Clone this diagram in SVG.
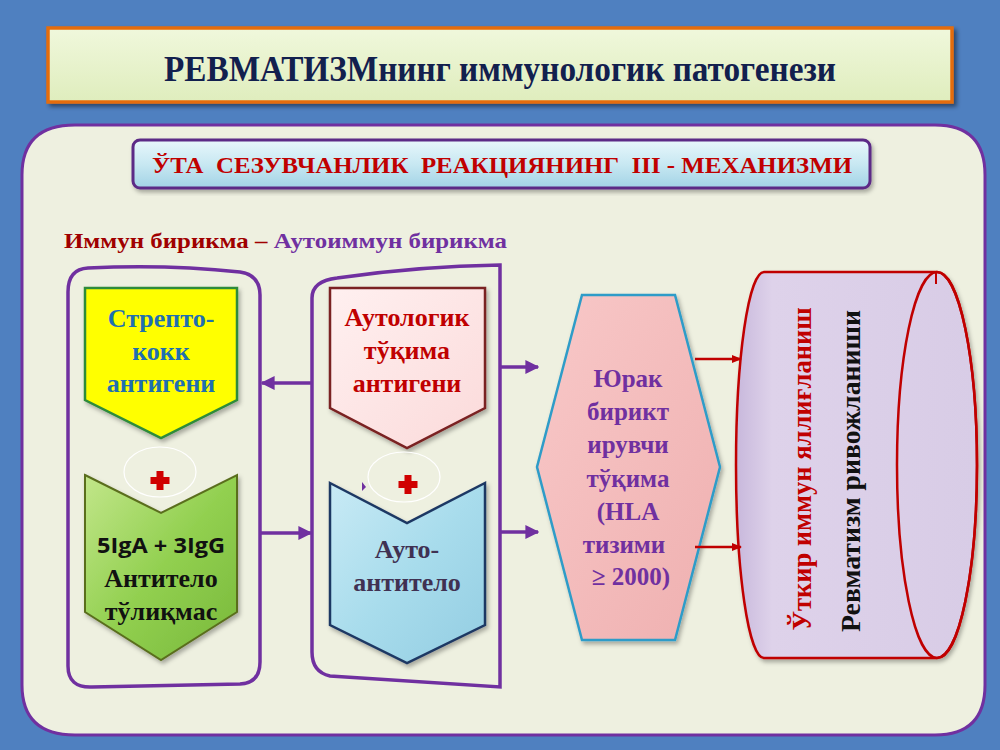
<svg xmlns="http://www.w3.org/2000/svg" width="1000" height="750" viewBox="0 0 1000 750">
<defs>
<linearGradient id="gTitle" x1="0" y1="0" x2="0" y2="1"><stop offset="0" stop-color="#f0f8dc"/><stop offset="1" stop-color="#dfedbd"/></linearGradient>
<linearGradient id="gSub" x1="0" y1="0" x2="0" y2="1"><stop offset="0" stop-color="#e8f7fb"/><stop offset="0.5" stop-color="#c8e8f2"/><stop offset="1" stop-color="#a2d3e6"/></linearGradient>
<linearGradient id="gGreen" x1="0" y1="0" x2="1" y2="1"><stop offset="0" stop-color="#c2e68a"/><stop offset="0.5" stop-color="#92d050"/><stop offset="1" stop-color="#78b83a"/></linearGradient>
<linearGradient id="gBlue" x1="0" y1="0" x2="1" y2="1"><stop offset="0" stop-color="#c8eaf5"/><stop offset="0.5" stop-color="#a8dcec"/><stop offset="1" stop-color="#93cde2"/></linearGradient>
<linearGradient id="gPink" x1="0" y1="0" x2="1" y2="1"><stop offset="0" stop-color="#fff0f0"/><stop offset="1" stop-color="#fbdada"/></linearGradient>
<linearGradient id="gHex" x1="0" y1="0" x2="1" y2="1"><stop offset="0" stop-color="#f8c8c8"/><stop offset="1" stop-color="#efb0b0"/></linearGradient>
<linearGradient id="gCyl" x1="0" y1="0" x2="1" y2="0"><stop offset="0" stop-color="#c8b8dc"/><stop offset="0.15" stop-color="#ded2ea"/><stop offset="1" stop-color="#d8cce6"/></linearGradient>
<filter id="sh" x="-5%" y="-10%" width="110%" height="130%"><feDropShadow dx="3" dy="3" stdDeviation="2" flood-color="#000" flood-opacity="0.45"/></filter>
<filter id="sh2" x="-10%" y="-10%" width="125%" height="125%"><feDropShadow dx="2" dy="3" stdDeviation="2" flood-color="#000" flood-opacity="0.3"/></filter>
<marker id="mP" viewBox="0 0 10 10" refX="9" refY="5" markerWidth="4" markerHeight="4" orient="auto"><path d="M0,0 L10,5 L0,10 Z" fill="#7030a0"/></marker>
<marker id="mR" viewBox="0 0 10 10" refX="9" refY="5" markerWidth="4" markerHeight="4" orient="auto"><path d="M0,1 L10,5 L0,9 Z" fill="#c00000"/></marker>
<style>
.serif{font-family:"Liberation Serif","Times New Roman",serif;font-weight:bold}
.sans{font-family:"Open Sans","Liberation Sans",sans-serif;font-weight:bold}
.box{font-size:26px;text-anchor:middle}
.cont{fill:none;stroke:#7030a0;stroke-width:3.5}
.pc{fill:none;stroke:#ffffff;stroke-width:1.2}
.plus{fill:#d00000}
.pl{stroke:#7030a0;stroke-width:3.5;fill:none}
.rl{stroke:#c00000;stroke-width:2.5;fill:none}
.pre{white-space:pre}
</style>
</defs>
<rect x="0" y="0" width="1000" height="750" fill="#4f80c0"/>

<g id="title">
<rect x="48" y="28" width="904" height="74" fill="url(#gTitle)" stroke="#e46c0a" stroke-width="3.5" filter="url(#sh)"/>
<text x="500" y="81" class="serif" font-size="35" fill="#12204e" text-anchor="middle" textLength="672" lengthAdjust="spacingAndGlyphs">РЕВМАТИЗМнинг иммунологик патогенези</text>
</g>

<g id="panel">
<path d="M75,125 L935,125 Q985,125 985,175 L985,685 Q985,735 935,735 L75,735 Q22,735 22,685 L22,175 Q22,125 75,125 Z" fill="#eef0e0" stroke="#7030a0" stroke-width="3"/>
</g>

<g id="subtitle">
<rect x="133" y="140" width="737" height="48" rx="7" fill="url(#gSub)" stroke="#5b2a86" stroke-width="3" filter="url(#sh2)"/>
<text x="502" y="173" class="serif pre" font-size="24" fill="#c00000" text-anchor="middle" textLength="700" lengthAdjust="spacingAndGlyphs">ЎТА  СЕЗУВЧАНЛИК  РЕАКЦИЯНИНГ  III - МЕХАНИЗМИ</text>
</g>

<g id="caption">
<text x="64" y="248" class="serif" font-size="21" textLength="443" lengthAdjust="spacingAndGlyphs"><tspan fill="#a00000">Иммун бирикма – </tspan><tspan fill="#7030a0">Аутоиммун бирикма</tspan></text>
</g>

<g id="container-left">
<path class="cont" d="M88,268 Q165,264 240,272 Q260,275 260,295 L260,662 Q260,683 240,684 L92,687 Q68,688 68,666 L68,292 Q68,269 88,268 Z"/>
</g>
<g id="container-right">
<path class="cont" d="M337,278 Q420,266 500,265 L500,687 L330,676 Q312,672 312,652 L312,298 Q312,281 337,278 Z"/>
</g>

<g id="strep">
<path d="M85,288 L237,288 L237,400 L161,438 L85,400 Z" fill="#ffff00" stroke="#2e8b3a" stroke-width="2.5" filter="url(#sh2)"/>
<text class="serif box" fill="#1f6fb0"><tspan x="161" y="327">Стрепто-</tspan><tspan x="161" y="360">кокк</tspan><tspan x="161" y="392">антигени</tspan></text>
</g>

<g id="plus-left">
<ellipse class="pc" cx="160" cy="472" rx="36" ry="25"/>
<path class="plus" d="M156.5,471 h7 v6 h6 v7 h-6 v6 h-7 v-6 h-6 v-7 h6 Z"/>
</g>

<g id="antibody">
<path d="M85,475 L161,513 L237,475 L237,612 L161,660 L85,612 Z" fill="url(#gGreen)" stroke="#5a6e1e" stroke-width="2" filter="url(#sh2)"/>
<text x="161" y="553" class="sans" font-size="21" fill="#111" text-anchor="middle" textLength="128" lengthAdjust="spacingAndGlyphs">5IgA + 3IgG</text>
<text class="serif box" fill="#111"><tspan x="161" y="587">Антитело</tspan><tspan x="161" y="620">тўлиқмас</tspan></text>
</g>

<g id="auto-antigen">
<path d="M330,288 L485,288 L485,408 L407,448 L330,408 Z" fill="url(#gPink)" stroke="#7a2020" stroke-width="2.5" filter="url(#sh2)"/>
<text class="serif box" fill="#c00000"><tspan x="407" y="326">Аутологик</tspan><tspan x="407" y="359">тўқима</tspan><tspan x="407" y="392">антигени</tspan></text>
</g>

<g id="plus-right">
<ellipse class="pc" cx="404" cy="477" rx="36" ry="25"/>
<path class="plus" d="M404.5,475 h7 v6 h6 v7 h-6 v6 h-7 v-6 h-6 v-7 h6 Z"/>
<path d="M362,482 L366,487 L362,491 Z" fill="#7030a0"/>
</g>

<g id="auto-antibody">
<path d="M330,483 L407,523 L485,483 L485,625 L407,663 L330,625 Z" fill="url(#gBlue)" stroke="#1f3864" stroke-width="2.5" filter="url(#sh2)"/>
<text class="serif box" fill="#403152"><tspan x="407" y="558">Ауто-</tspan><tspan x="407" y="591">антитело</tspan></text>
</g>

<g id="heart-tissue">
<path d="M582,295 L675,295 L720,467 L675,640 L582,640 L537,467 Z" fill="url(#gHex)" stroke="#2e9cc8" stroke-width="2.5" filter="url(#sh2)"/>
<text class="serif" font-size="25" fill="#7030a0" text-anchor="middle"><tspan x="628" y="387">Юрак</tspan><tspan x="628" y="420">бирикт</tspan><tspan x="628" y="453">ирувчи</tspan><tspan x="628" y="487">тўқима</tspan><tspan x="628" y="520">(HLA</tspan><tspan x="624" y="553">тизими</tspan><tspan x="631" y="585">≥ 2000)</tspan></text>
</g>

<g id="cylinder">
<path d="M764,272 L937,272 A40,193 0 0 1 937,658 L764,658 A28,193 0 0 1 764,272 Z" fill="url(#gCyl)" stroke="#c00000" stroke-width="2.5" filter="url(#sh2)"/>
<ellipse cx="937" cy="465" rx="40" ry="193" fill="none" stroke="#c00000" stroke-width="2.5"/>
<line x1="936" y1="272" x2="936" y2="284" stroke="#c00000" stroke-width="2"/>
<text transform="translate(811,469) rotate(-90)" class="serif" font-size="27" fill="#c00000" text-anchor="middle" textLength="323" lengthAdjust="spacingAndGlyphs">Ўткир иммун яллиғланиш</text>
<text transform="translate(860,471) rotate(-90)" class="serif" font-size="27" fill="#111" text-anchor="middle" textLength="322" lengthAdjust="spacingAndGlyphs">Ревматизм ривожланиши</text>
</g>

<g id="connectors">
<line class="pl" x1="312" y1="383" x2="262" y2="383" marker-end="url(#mP)"/>
<line class="pl" x1="260" y1="533" x2="311" y2="533" marker-end="url(#mP)"/>
<line class="pl" x1="500" y1="367" x2="538" y2="367" marker-end="url(#mP)"/>
<line class="pl" x1="500" y1="532" x2="538" y2="532" marker-end="url(#mP)"/>
<line class="rl" x1="695" y1="359" x2="741" y2="359" marker-end="url(#mR)"/>
<line class="rl" x1="695" y1="547" x2="741" y2="547" marker-end="url(#mR)"/>
</g>
</svg>
